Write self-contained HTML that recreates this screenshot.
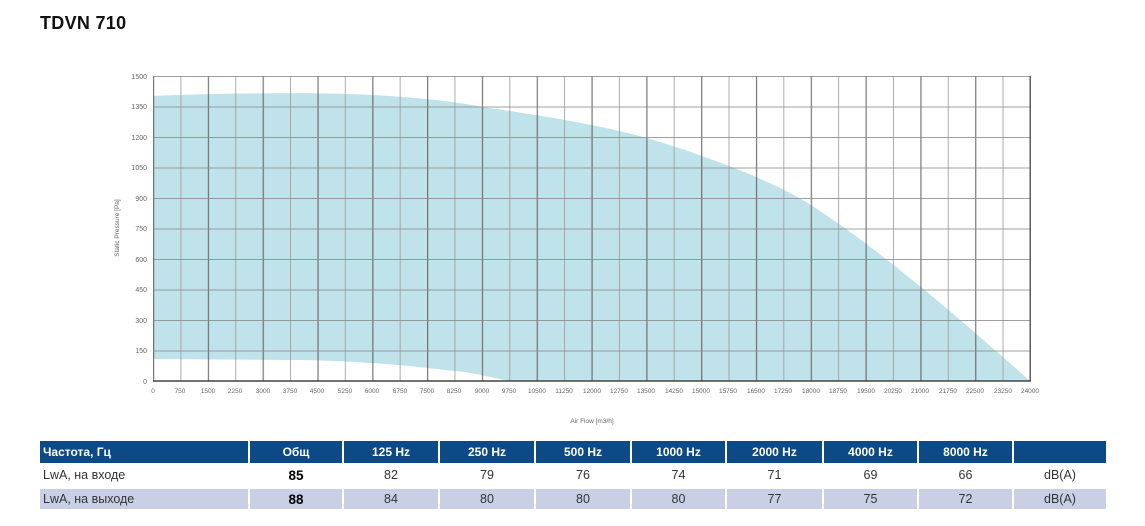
<!DOCTYPE html>
<html><head><meta charset="utf-8"><style>
body{margin:0;width:1145px;height:526px;background:#fff;position:relative;overflow:hidden;font-family:"Liberation Sans","DejaVu Sans",sans-serif}
.t{position:absolute;left:40px;top:13px;font-size:18px;color:#111;font-weight:bold;letter-spacing:0.3px}
.c{position:absolute;box-sizing:border-box;font-size:12.5px;display:flex;align-items:center;justify-content:center}
.h{background:#0b4a87;color:#fff;font-weight:bold;font-size:12px}
.r2{background:#c9d0e6}
.l{justify-content:flex-start;padding-left:3px}
</style></head><body>
<div class="t">TDVN 710</div>
<svg width="1145" height="526" style="position:absolute;left:0;top:0">
<defs>
<pattern id="v" x="153" y="0" width="54.81" height="10" patternUnits="userSpaceOnUse">
<rect x="0" y="0" width="1.2" height="10" fill="#555"/>
<rect x="27.4" y="0" width="1" height="10" fill="#999"/>
</pattern>
<pattern id="hz" x="0" y="76" width="10" height="30.5" patternUnits="userSpaceOnUse">
<rect x="0" y="0" width="10" height="1" fill="#888"/>
</pattern>
</defs>
<path d="M153,96 C220,93 330,92 372,95 C430,98 470,104 482,107 C540,115 600,125 647,138 C720,160 780,185 811,205 C880,250 950,310 1030,381 L509,381 C490,377 470,372 454,371 C420,367 390,364 370,363 C330,360 290,360 290,360 L153,359 Z" fill="#c0e2ea"/>
<rect x="153" y="76" width="878" height="305" fill="url(#v)" opacity="0.8"/>
<rect x="153" y="76" width="878" height="305" fill="url(#hz)" opacity="0.8"/>
<rect x="1029.5" y="76" width="1.2" height="305" fill="#555"/>
<line x1="153" y1="381" x2="1031" y2="381" stroke="#444" stroke-width="1.5"/>
<g font-size="7" fill="#666" text-anchor="end">
<text x="147" y="79">1500</text><text x="147" y="109">1350</text><text x="147" y="140">1200</text><text x="147" y="170">1050</text><text x="147" y="201">900</text><text x="147" y="231">750</text><text x="147" y="262">600</text><text x="147" y="292">450</text><text x="147" y="323">300</text><text x="147" y="353">150</text><text x="147" y="384">0</text>
</g>
<text x="119" y="228" font-size="6.5" fill="#666" text-anchor="middle" transform="rotate(-90 119 228)">Static Pressure [Pa]</text>
<g font-size="6.5" fill="#666" text-anchor="middle">
<text x="153" y="393">0</text><text x="180" y="393">750</text><text x="208" y="393">1500</text><text x="235" y="393">2250</text><text x="263" y="393">3000</text><text x="290" y="393">3750</text><text x="317" y="393">4500</text><text x="345" y="393">5250</text><text x="372" y="393">6000</text><text x="400" y="393">6750</text><text x="427" y="393">7500</text><text x="454" y="393">8250</text><text x="482" y="393">9000</text><text x="509" y="393">9750</text><text x="537" y="393">10500</text><text x="564" y="393">11250</text><text x="592" y="393">12000</text><text x="619" y="393">12750</text><text x="646" y="393">13500</text><text x="674" y="393">14250</text><text x="701" y="393">15000</text><text x="728" y="393">15750</text><text x="756" y="393">16500</text><text x="783" y="393">17250</text><text x="811" y="393">18000</text><text x="838" y="393">18750</text><text x="866" y="393">19500</text><text x="893" y="393">20250</text><text x="920" y="393">21000</text><text x="948" y="393">21750</text><text x="975" y="393">22500</text><text x="1003" y="393">23250</text><text x="1030" y="393">24000</text>
</g>
<text x="592" y="423" font-size="6.5" fill="#666" text-anchor="middle">Air Flow [m3/h]</text>
</svg>

<div class="c h l" style="left:40px;top:441px;width:208px;height:22px">Частота, Гц</div>
<div class="c h" style="left:250px;top:441px;width:92px;height:22px">Общ</div>
<div class="c h" style="left:344px;top:441px;width:94px;height:22px">125 Hz</div>
<div class="c h" style="left:440px;top:441px;width:94px;height:22px">250 Hz</div>
<div class="c h" style="left:536px;top:441px;width:94px;height:22px">500 Hz</div>
<div class="c h" style="left:632px;top:441px;width:93px;height:22px">1000 Hz</div>
<div class="c h" style="left:727px;top:441px;width:95px;height:22px">2000 Hz</div>
<div class="c h" style="left:824px;top:441px;width:93px;height:22px">4000 Hz</div>
<div class="c h" style="left:919px;top:441px;width:93px;height:22px">8000 Hz</div>
<div class="c h" style="left:1014px;top:441px;width:92px;height:22px"></div>

<div class="c l" style="left:40px;top:463px;width:208px;height:24px;color:#333">LwA, на входе</div>
<div class="c" style="left:250px;top:463px;width:92px;height:24px;font-weight:bold;font-size:13.5px">85</div>
<div class="c" style="left:344px;top:463px;width:94px;height:24px;color:#333">82</div>
<div class="c" style="left:440px;top:463px;width:94px;height:24px;color:#333">79</div>
<div class="c" style="left:536px;top:463px;width:94px;height:24px;color:#333">76</div>
<div class="c" style="left:632px;top:463px;width:93px;height:24px;color:#333">74</div>
<div class="c" style="left:727px;top:463px;width:95px;height:24px;color:#333">71</div>
<div class="c" style="left:824px;top:463px;width:93px;height:24px;color:#333">69</div>
<div class="c" style="left:919px;top:463px;width:93px;height:24px;color:#333">66</div>
<div class="c" style="left:1014px;top:463px;width:92px;height:24px;color:#333">dB(A)</div>

<div class="c r2 l" style="left:40px;top:489px;width:208px;height:20px;color:#333">LwA, на выходе</div>
<div class="c r2" style="left:250px;top:489px;width:92px;height:20px;font-weight:bold;font-size:13.5px">88</div>
<div class="c r2" style="left:344px;top:489px;width:94px;height:20px;color:#333">84</div>
<div class="c r2" style="left:440px;top:489px;width:94px;height:20px;color:#333">80</div>
<div class="c r2" style="left:536px;top:489px;width:94px;height:20px;color:#333">80</div>
<div class="c r2" style="left:632px;top:489px;width:93px;height:20px;color:#333">80</div>
<div class="c r2" style="left:727px;top:489px;width:95px;height:20px;color:#333">77</div>
<div class="c r2" style="left:824px;top:489px;width:93px;height:20px;color:#333">75</div>
<div class="c r2" style="left:919px;top:489px;width:93px;height:20px;color:#333">72</div>
<div class="c r2" style="left:1014px;top:489px;width:92px;height:20px;color:#333">dB(A)</div>
</body></html>
